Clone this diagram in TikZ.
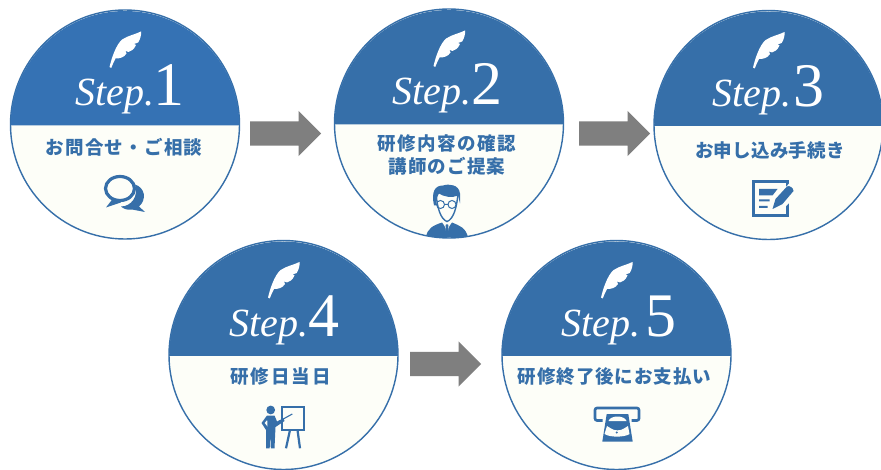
\documentclass[tikz,border=0pt]{standalone}
\usepackage{fontspec}
\setmainfont{Liberation Serif}
\newfontfamily\cjk{Noto Sans CJK JP}
\usetikzlibrary{shapes.arrows}
\definecolor{stepblue}{HTML}{366FA9}
\definecolor{stepbright}{HTML}{3572B4}
\definecolor{stepcream}{HTML}{FDFEF8}
\definecolor{arrowgray}{HTML}{7F7F7F}
\tikzset{
  stepdisc/.style={circle,draw=stepblue,line width=1.4pt,fill=stepcream,minimum size=229pt,inner sep=0pt},
  steplabel/.style={anchor=base west,inner sep=0pt,text=white,font=\fontsize{40}{40}\selectfont\itshape},
  stepdigit/.style={anchor=base west,inner sep=0pt,text=white,font=\fontsize{62}{62}\selectfont},
  jplabel/.style={inner sep=0pt,align=center,text=stepblue,font=\cjk\bfseries\fontsize{18.5}{23}\selectfont},
  flowarrow/.style={single arrow,fill=arrowgray,draw=none,anchor=tail,minimum height=71pt,minimum width=45pt,
    single arrow head extend=10.5pt,single arrow tip angle=90,inner sep=12pt,shape border rotate=0},
  iconline/.style={draw=stepblue,fill=none,line width=2.6pt}
}
\newcommand{\stepdisc}[7]{% name,x,y,digit,stepx,digitx,colour
  \node[stepdisc] (#1) at (#2,#3) {};
  \begin{scope}[shift={(#2,#3)}]
    \fill[#7] (-114.3,.8) arc[start angle=180,end angle=0,radius=114.3pt] -- cycle;
    \fill[white] (-15.5,-57.5) .. controls (-13.5,-66) and (-9,-80) .. (-2.8,-85)
      .. controls (3,-89) and (10,-90) .. (16,-93)
      .. controls (16.5,-89) and (15,-85) .. (13.2,-82) -- (9,-80.5) -- (11,-79.5)
      .. controls (9,-75) and (6.5,-73.5) .. (3.5,-72.5) -- (.5,-73.5) -- (1.5,-71)
      .. controls (-1,-67) and (-5,-66) .. (-9.5,-66) .. controls (-11,-63) and (-12.5,-60) .. (-13.8,-56.5) -- cycle;
    \node[steplabel] (#1label) at (#5,-18.5) {Step.};
    \node[stepdigit] (#1digit) at (#6,-18.5) {#4};
  \end{scope}
}
\begin{document}
\begin{tikzpicture}[x=1pt,y=-1pt]
\useasboundingbox (0,0) rectangle (881,470);
\fill[white] (0,0) rectangle (881,470);

\stepdisc{sa}{125}{124.5}{1}{-50}{28}{stepbright}
\stepdisc{sb}{449}{123.5}{2}{-57}{22}{stepblue}
\stepdisc{sc}{768.5}{125}{3}{-56}{25}{stepblue}
\stepdisc{sd}{283.5}{355}{4}{-54.5}{25}{stepblue}
\stepdisc{se}{616.5}{355}{5}{-55.5}{29}{stepblue}

\node[jplabel] (ta) at (124,147) {\addfontfeature{LetterSpace=6.5}お問合せ・ご相談};
\node[jplabel] (tb) at (447,154.5) {\addfontfeature{LetterSpace=8}研修内容の確認\\\addfontfeature{LetterSpace=5.5}講師のご提案};
\node[jplabel] (tc) at (770,150) {\addfontfeature{LetterSpace=1.5}お申し込み手続き};
\node[jplabel] (td) at (280.5,377) {\addfontfeature{LetterSpace=11}研修日当日};
\node[jplabel] (te) at (614.5,377) {\addfontfeature{LetterSpace=5}研修終了後にお支払い};

\node[flowarrow] (fa) at (250,133.5) {};
\node[flowarrow] (fb) at (579,133.5) {};
\node[flowarrow] (fc) at (410,364) {};

% chat icon
\begin{scope}[shift={(125,124.5)}]
  \fill[stepblue] (10,60) .. controls (20,63) and (22,75) .. (14,82) -- (20,87.5) -- (7,85) .. controls (2,86) and (-2,84) .. (-4,82) .. controls (6,82) and (14,72) .. (10,60) -- cycle;
  \draw[iconline,line width=3.2pt] (-5,64) ellipse[x radius=14.5pt,y radius=12pt];
  \fill[stepblue] (-12,74) -- (-19,83) -- (-4,78) -- cycle;
\end{scope}

% person icon
\begin{scope}
  \clip (449,123.5) circle[radius=114.3pt];
  \begin{scope}[shift={(449,123.5)}]
    \fill[stepblue] (-23,114) .. controls (-22,105) and (-16,102) .. (-7,99) -- (-2,106) -- (3,99) .. controls (10,102) and (17,104) .. (19,114) -- cycle;
    \fill[stepcream] (-5,99) -- (-2,112) -- (1,99) -- cycle;
    \fill[stepblue] (-3.2,101) -- (-.8,101) -- (.2,114) -- (-4.2,114) -- cycle;
    \draw[stepblue,fill=stepcream,line width=1.4pt] (-13,69) .. controls (-12,85) and (-8,96) .. (-2,98) .. controls (4,96) and (8,85) .. (9,69) -- cycle;
    \fill[stepblue] (-15,82) .. controls (-18,68) and (-14,62) .. (-6,62) .. controls (0,60) and (10,61) .. (11,70) -- (11,80) -- (9,72) .. controls (3,75) and (-6,73) .. (-10,70) .. controls (-12,73) and (-13,77) .. (-13,82) -- cycle;
    \draw[stepblue,line width=1pt] (-8.5,81) circle[radius=4pt] (3,81) circle[radius=4pt] (-4.5,81) -- (-1,81);
  \end{scope}
\end{scope}

% form icon
\begin{scope}[shift={(768.5,125)}]
  \fill[stepblue] (-16.7,55) rectangle (20,92.3);
  \fill[stepcream] (-14,58) rectangle (17.2,89.5);
  \fill[stepblue] (-9.5,64) -- (9,64) -- (4,70.5) -- (-9.5,70.5) -- cycle;
  \fill[stepblue] (-9.5,74.5) rectangle (1,76.5) (-9.5,81) rectangle (-1,83);
  \fill[stepcream] (5,88) -- (8,73) -- (21,58) -- (28,60) -- (28,70) -- (14,85) -- cycle;
  \fill[stepblue] (4,84) -- (7,74) -- (18.5,61.5) .. controls (21,60) and (25,63) .. (25,66) -- (14,79) -- cycle;
\end{scope}

% presenter icon
\begin{scope}[shift={(283.5,355)}]
  \fill[stepblue] (-12.8,55) circle[radius=4.4pt];
  \fill[stepblue] (-16.5,60.5) -- (-9,60.5) -- (-6.5,66.5) -- (0,63.5) -- (1,66) -- (-8,72) -- (-9,93.3) -- (-12.7,93.3) -- (-13.2,79) -- (-13.8,93.3) -- (-17.5,93.3) -- (-17.5,75) -- (-22,68) -- cycle;
  \fill[stepcream] (-16.3,65) -- (-18.8,68) -- (-16,71.5) -- cycle;
  \draw[stepblue,line width=2pt] (-2,52) rectangle (20,74.5);
  \draw[stepblue,line width=1.1pt] (-5.2,66.7) -- (8.8,59);
  \draw[stepblue,line width=2.2pt] (6.5,75) -- (2.5,93.3) (14,75) -- (16.5,93.3);
\end{scope}

% cash machine icon
\begin{scope}[shift={(616.5,355)}]
  \draw[stepblue,line width=2.6pt,rounded corners=2pt] (-14,65.5) -- (-21.5,65.5) -- (-21.5,53) -- (22.5,53) -- (22.5,65.5) -- (15,65.5);
  \fill[stepblue] (-9.8,59) -- (11.8,59) -- (16.2,86.7) -- (-14.2,86.7) -- cycle;
  \fill[stepcream] (-8,66) .. controls (-6,60) and (8,60) .. (10,66) -- (-8,66) -- cycle;
  \fill[stepcream] (-9.5,71) -- (-5.5,73.5) .. controls (-2,76) and (4,76) .. (7.5,73.5) -- (11.5,71) -- (13,79) .. controls (8,82.5) and (-7,82.5) .. (-12,79) -- cycle;
  \fill[stepblue] (.2,77.5) circle[radius=1.2pt];
\end{scope}
\end{tikzpicture}
\end{document}
